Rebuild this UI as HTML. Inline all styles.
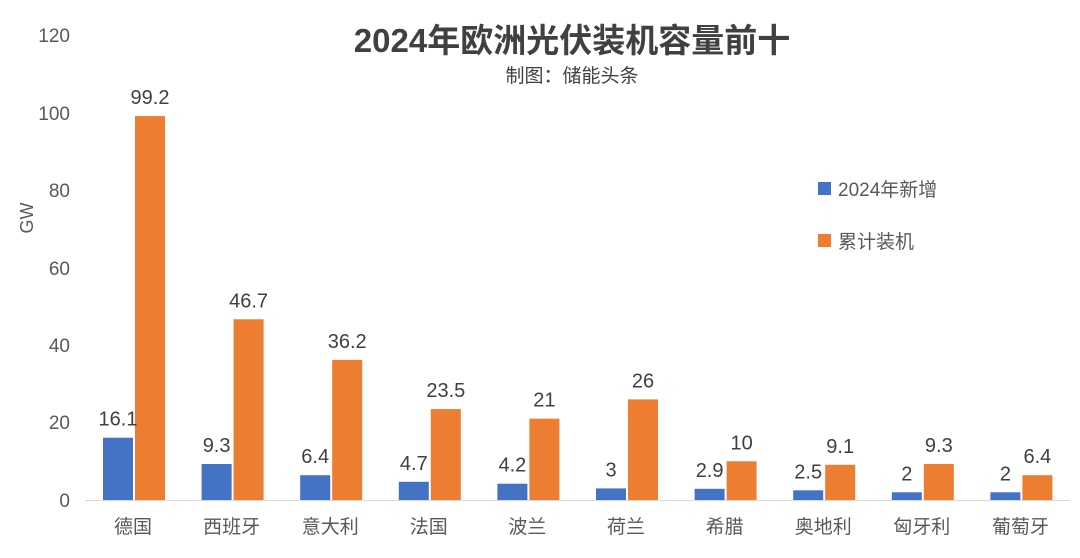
<!DOCTYPE html>
<html><head><meta charset="utf-8"><style>
body{margin:0;background:#fff}
svg text{font-family:"Liberation Sans","Noto Sans CJK SC",sans-serif}
</style></head><body>
<svg width="1080" height="553" viewBox="0 0 1080 553" xmlns="http://www.w3.org/2000/svg">
<rect width="1080" height="553" fill="#fff"/>
<text x="572" y="52" text-anchor="middle" font-size="33" font-weight="bold" fill="#404040">2024年欧洲光伏装机容量前十</text>
<text x="572" y="82" text-anchor="middle" font-size="19" fill="#404040">制图：储能头条</text>
<g font-size="19" fill="#595959" text-anchor="end">
<text x="70" y="507">0</text><text x="70" y="429">20</text><text x="70" y="352">40</text>
<text x="70" y="275">60</text><text x="70" y="197">80</text><text x="70" y="120">100</text><text x="70" y="42">120</text>
</g>
<text transform="translate(33,218) rotate(-90)" text-anchor="middle" font-size="18" fill="#595959">GW</text>
<line x1="85" y1="500.5" x2="1070" y2="500.5" stroke="#d9d9d9" stroke-width="1"/>
<g fill="#4472C4">
<rect x="103" y="437.7" width="30" height="62.3"/>
<rect x="201.6" y="464" width="30" height="36"/>
<rect x="300.2" y="475.2" width="30" height="24.8"/>
<rect x="398.8" y="481.8" width="30" height="18.2"/>
<rect x="497.4" y="483.7" width="30" height="16.3"/>
<rect x="596" y="488.4" width="30" height="11.6"/>
<rect x="694.6" y="488.8" width="30" height="11.2"/>
<rect x="793.2" y="490.3" width="30" height="9.7"/>
<rect x="891.8" y="492.3" width="30" height="7.7"/>
<rect x="990.4" y="492.3" width="30" height="7.7"/>
</g>
<g fill="#ED7D31">
<rect x="135" y="116.1" width="30" height="383.9"/>
<rect x="233.6" y="319.3" width="30" height="180.7"/>
<rect x="332.2" y="359.9" width="30" height="140.1"/>
<rect x="430.8" y="409.1" width="30" height="90.9"/>
<rect x="529.4" y="418.7" width="30" height="81.3"/>
<rect x="628" y="399.4" width="30" height="100.6"/>
<rect x="726.6" y="461.3" width="30" height="38.7"/>
<rect x="825.2" y="464.8" width="30" height="35.2"/>
<rect x="923.8" y="464" width="30" height="36"/>
<rect x="1022.4" y="475.2" width="30" height="24.8"/>
</g>
<g font-size="20" fill="#404040" text-anchor="middle">
<text x="118" y="425.7">16.1</text><text x="150" y="104.1">99.2</text>
<text x="216.6" y="452">9.3</text><text x="248.6" y="307.3">46.7</text>
<text x="315.2" y="463.2">6.4</text><text x="347.2" y="347.9">36.2</text>
<text x="413.8" y="469.8">4.7</text><text x="445.8" y="397.1">23.5</text>
<text x="512.4" y="471.7">4.2</text><text x="544.4" y="406.7">21</text>
<text x="611" y="476.4">3</text><text x="643" y="387.4">26</text>
<text x="709.6" y="476.8">2.9</text><text x="741.6" y="449.3">10</text>
<text x="808.2" y="478.3">2.5</text><text x="840.2" y="452.8">9.1</text>
<text x="906.8" y="480.3">2</text><text x="938.8" y="452">9.3</text>
<text x="1005.4" y="480.3">2</text><text x="1037.4" y="463.2">6.4</text>
</g>
<g font-size="19" fill="#595959" text-anchor="middle">
<text x="133" y="533">德国</text><text x="231.6" y="533">西班牙</text><text x="330.2" y="533">意大利</text>
<text x="428.8" y="533">法国</text><text x="527.4" y="533">波兰</text><text x="626" y="533">荷兰</text>
<text x="724.6" y="533">希腊</text><text x="823.2" y="533">奥地利</text><text x="921.8" y="533">匈牙利</text>
<text x="1020.4" y="533">葡萄牙</text>
</g>
<rect x="818" y="182" width="13" height="13" fill="#4472C4"/>
<text x="838" y="196" font-size="19" fill="#595959">2024年新增</text>
<rect x="818" y="234" width="13" height="13" fill="#ED7D31"/>
<text x="838" y="248" font-size="19" fill="#595959">累计装机</text>
</svg>
</body></html>
